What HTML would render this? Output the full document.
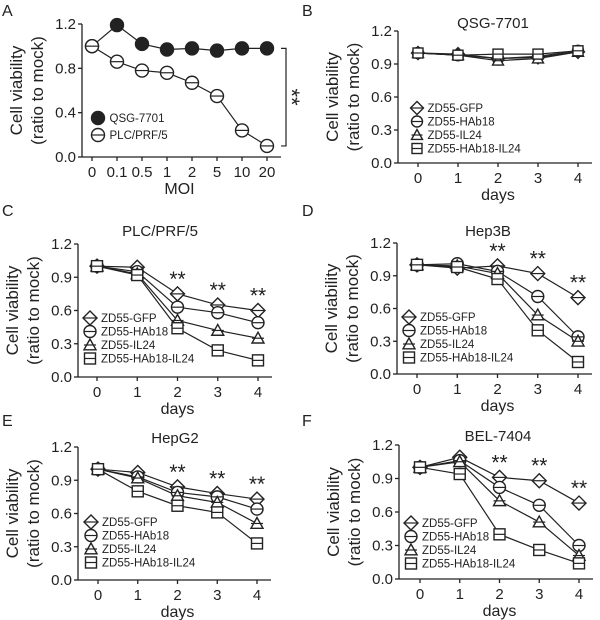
<!DOCTYPE html>
<html><head><meta charset="utf-8">
<style>
html,body{margin:0;padding:0;background:#fff;}
svg{display:block;font-family:"Liberation Sans",Arial,sans-serif;}
</style></head>
<body>
<svg id="fig" width="600" height="620" viewBox="0 0 600 620"></svg>
<script>
// ---- Data ----
const moiLabels = ["0","0.1","0.5","1","2","5","10","20"];
const aQSG = [1.0,1.19,1.02,0.97,0.98,0.96,0.98,0.98];
const aPLC = [1.0,0.86,0.78,0.76,0.67,0.55,0.24,0.10];
const dayLabels = ["0","1","2","3","4"];
const yTicks = [0,0.3,0.6,0.9,1.2];
const yTicksA = [0,0.4,0.8,1.2];
const seriesNames = ["ZD55-GFP","ZD55-HAb18","ZD55-IL24","ZD55-HAb18-IL24"];
const bGFP=[1,0.99,0.95,0.96,1.01], bHAb=[1,0.98,0.95,0.97,1.02], bIL=[1,0.98,0.93,0.95,1.01], bCombo=[1,0.98,0.99,0.99,1.02];
const cGFP=[1,0.99,0.75,0.65,0.60], cHAb=[1,0.95,0.63,0.58,0.49], cIL=[1,0.93,0.51,0.42,0.35], cCombo=[1,0.92,0.44,0.24,0.15];
const dGFP=[1,0.97,0.99,0.92,0.70], dHAb=[1,1.01,0.94,0.71,0.34], dIL=[1,0.99,0.92,0.54,0.30], dCombo=[1,0.98,0.87,0.40,0.11];
const eGFP=[1,0.97,0.84,0.78,0.73], eHAb=[1,0.93,0.79,0.75,0.64], eIL=[1,0.92,0.76,0.70,0.51], eCombo=[1,0.80,0.67,0.61,0.33];
const fGFP=[1,1.09,0.91,0.88,0.68], fHAb=[1,1.06,0.82,0.66,0.30], fIL=[1,1.05,0.70,0.51,0.21], fCombo=[1,0.94,0.40,0.26,0.14];
const starDays=[2,3,4];

const NS="http://www.w3.org/2000/svg";
const svg=document.getElementById('fig');
function mk(tag,attrs,parent){const e=document.createElementNS(NS,tag);for(const k in attrs)e.setAttribute(k,attrs[k]);(parent||svg).appendChild(e);return e;}
function txt(s,x,y,size,parent,anchor){const t=mk('text',{x:x,y:y,'font-size':size,'text-anchor':anchor||'middle',fill:'#222'},parent);t.textContent=s;return t;}

function marker(g,type,x,y,s,fill){
  let e;
  if(type==='circle'){e=mk('circle',{cx:x,cy:y,r:s,fill:fill,stroke:'#222','stroke-width':1.4},g);}
  else if(type==='diamond'){e=mk('polygon',{points:`${x},${y-s-1} ${x+s+1},${y} ${x},${y+s+1} ${x-s-1},${y}`,fill:'#fff',stroke:'#222','stroke-width':1.4},g);}
  else if(type==='triangle'){e=mk('polygon',{points:`${x},${y-s} ${x+s},${y+s*0.8} ${x-s},${y+s*0.8}`,fill:'#fff',stroke:'#222','stroke-width':1.4},g);}
  else {e=mk('rect',{x:x-s+0.5,y:y-s+0.5,width:2*s-1,height:2*s-1,fill:'#fff',stroke:'#222','stroke-width':1.4},g);}
  
  
  if(fill!=='#222'){mk('line',{x1:x-s,x2:x+s,y1:y,y2:y,stroke:'#222','stroke-width':1.2},g);}
  return e;
}

function panel(cfg){
  const g=mk('g',{});
  
  
  const ymax=cfg.ymax||1.2;
  const Y=v=>cfg.y0-(cfg.y0-cfg.y1)*v/ymax;
  const n=cfg.cats.length;
  const X=i=>cfg.x0+(cfg.xN-cfg.x0)*i/(n-1);
  const L=txt(cfg.letter,cfg.lx,cfg.ly,16,g,'start');
  
  
  if(cfg.title){const t=txt(cfg.title,cfg.tx,cfg.ty,15,g);
    
    }
  const ya=mk('line',{x1:cfg.ax,x2:cfg.ax,y1:Y(ymax),y2:cfg.y0,stroke:'#222','stroke-width':1.3},g);
  
  
  const xa=mk('line',{x1:cfg.ax,x2:X(n-1)+14,y1:cfg.y0,y2:cfg.y0,stroke:'#222','stroke-width':1.3},g);
  
  
  cfg.yt.forEach(v=>{
    mk('line',{x1:cfg.ax-4,x2:cfg.ax,y1:Y(v),y2:Y(v),stroke:'#222','stroke-width':1.3},g);
    const t=txt(v.toFixed(1),cfg.ax-6,Y(v)+5,15,g,'end');
    
    
  });
  cfg.cats.forEach((c,i)=>{
    mk('line',{x1:X(i),x2:X(i),y1:cfg.y0,y2:cfg.y0+4,stroke:'#222','stroke-width':1.3},g);
    const t=txt(c,X(i),cfg.y0+20,15,g);
    
    
  });
  const xt=txt(cfg.xlabel,(cfg.x0+cfg.xN)/2,cfg.y0+37,16,g);
  
  
  const ym=(cfg.y0+Y(ymax))/2;
  const y1=txt('Cell viability',0,0,17,g);y1.setAttribute('transform',`translate(${cfg.ax-60},${ym}) rotate(-90)`);
  
  
  const y2=txt('(ratio to mock)',0,0,17,g);y2.setAttribute('transform',`translate(${cfg.ax-39},${ym}) rotate(-90)`);
  
  
  cfg.series.forEach(s=>{
    const p=s.vals.map((v,i)=>`${X(i)},${Y(v)}`).join(' ');
    const pl=mk('polyline',{points:p,fill:'none',stroke:'#222','stroke-width':1.2},g);
    
    
  });
  cfg.series.forEach(s=>{
    s.vals.forEach((v,i)=>{marker(g,s.type,X(i),Y(v),cfg.ms,s.fill||'#fff');});
  });
  cfg.series.forEach((s,k)=>{
    const ly=cfg.legY+k*cfg.legDy;
    marker(g,s.type,cfg.legX,ly,cfg.lms,s.fill||'#fff');
    const t=txt(s.name,cfg.legX+cfg.lms+5,ly+4,cfg.lfs,g,'start');
    
    
  });
  if(cfg.stars){
    starDays.forEach(d=>{
      const m=Math.max(...cfg.series.map(s=>s.vals[d]));
      const t=txt('**',X(d),Y(m)-8,21,g);
      
      
    });
  }
  return {g,X,Y};
}

const pa=panel({letter:'A',lx:2,ly:16,ax:82,y0:157,y1:24,x0:92,xN:267,cats:moiLabels,yt:yTicksA,xlabel:'MOI',ms:6.5,lms:6.5,
  series:[{name:'QSG-7701',type:'circle',fill:'#222',vals:aQSG},{name:'PLC/PRF/5',type:'circle',vals:aPLC}],
  legX:98,legY:118,legDy:17,lfs:11.5});
const br=mk('polyline',{points:`${pa.X(7)+14},${pa.Y(aQSG[7])} ${pa.X(7)+19},${pa.Y(aQSG[7])} ${pa.X(7)+19},${pa.Y(aPLC[7])} ${pa.X(7)+14},${pa.Y(aPLC[7])}`,fill:'none',stroke:'#222','stroke-width':1.2});


const sa=txt('**',0,0,22);sa.setAttribute('transform',`translate(284,97) rotate(90)`);



function four(a,b,c,d){return [{name:seriesNames[0],type:'diamond',vals:a},{name:seriesNames[1],type:'circle',vals:b},{name:seriesNames[2],type:'triangle',vals:c},{name:seriesNames[3],type:'square',vals:d}];}

panel({letter:'B',lx:302,ly:16,title:'QSG-7701',tx:493,ty:28,ax:398,y0:163,y1:31,x0:418,xN:578,cats:dayLabels,yt:yTicks,xlabel:'days',ms:5.5,lms:5.5,
  series:four(bGFP,bHAb,bIL,bCombo),legX:417,legY:108,legDy:13.5,lfs:11.5});
panel({letter:'C',lx:2,ly:216,title:'PLC/PRF/5',tx:160,ty:236,ax:78,y0:377,y1:244,x0:97,xN:258,cats:dayLabels,yt:yTicks,xlabel:'days',ms:6,lms:6,
  series:four(cGFP,cHAb,cIL,cCombo),legX:90,legY:318,legDy:13.5,lfs:11.5,stars:true});
panel({letter:'D',lx:302,ly:216,title:'Hep3B',tx:488,ty:236,ax:397,y0:374,y1:243,x0:417,xN:578,cats:dayLabels,yt:yTicks,xlabel:'days',ms:6,lms:6,
  series:four(dGFP,dHAb,dIL,dCombo),legX:409,legY:317,legDy:13.5,lfs:11.5,stars:true});
panel({letter:'E',lx:2,ly:426,title:'HepG2',tx:175,ty:443,ax:78,y0:580,y1:447,x0:98,xN:257,cats:dayLabels,yt:yTicks,xlabel:'days',ms:6,lms:6,
  series:four(eGFP,eHAb,eIL,eCombo),legX:91,legY:522,legDy:13.5,lfs:11.5,stars:true});
panel({letter:'F',lx:302,ly:426,title:'BEL-7404',tx:498,ty:441,ax:399,y0:579,y1:445,x0:420,xN:579,cats:dayLabels,yt:yTicks,xlabel:'days',ms:6,lms:6,
  series:four(fGFP,fHAb,fIL,fCombo),legX:411,legY:523,legDy:13.5,lfs:11.5,stars:true});
</script>
</body></html>
